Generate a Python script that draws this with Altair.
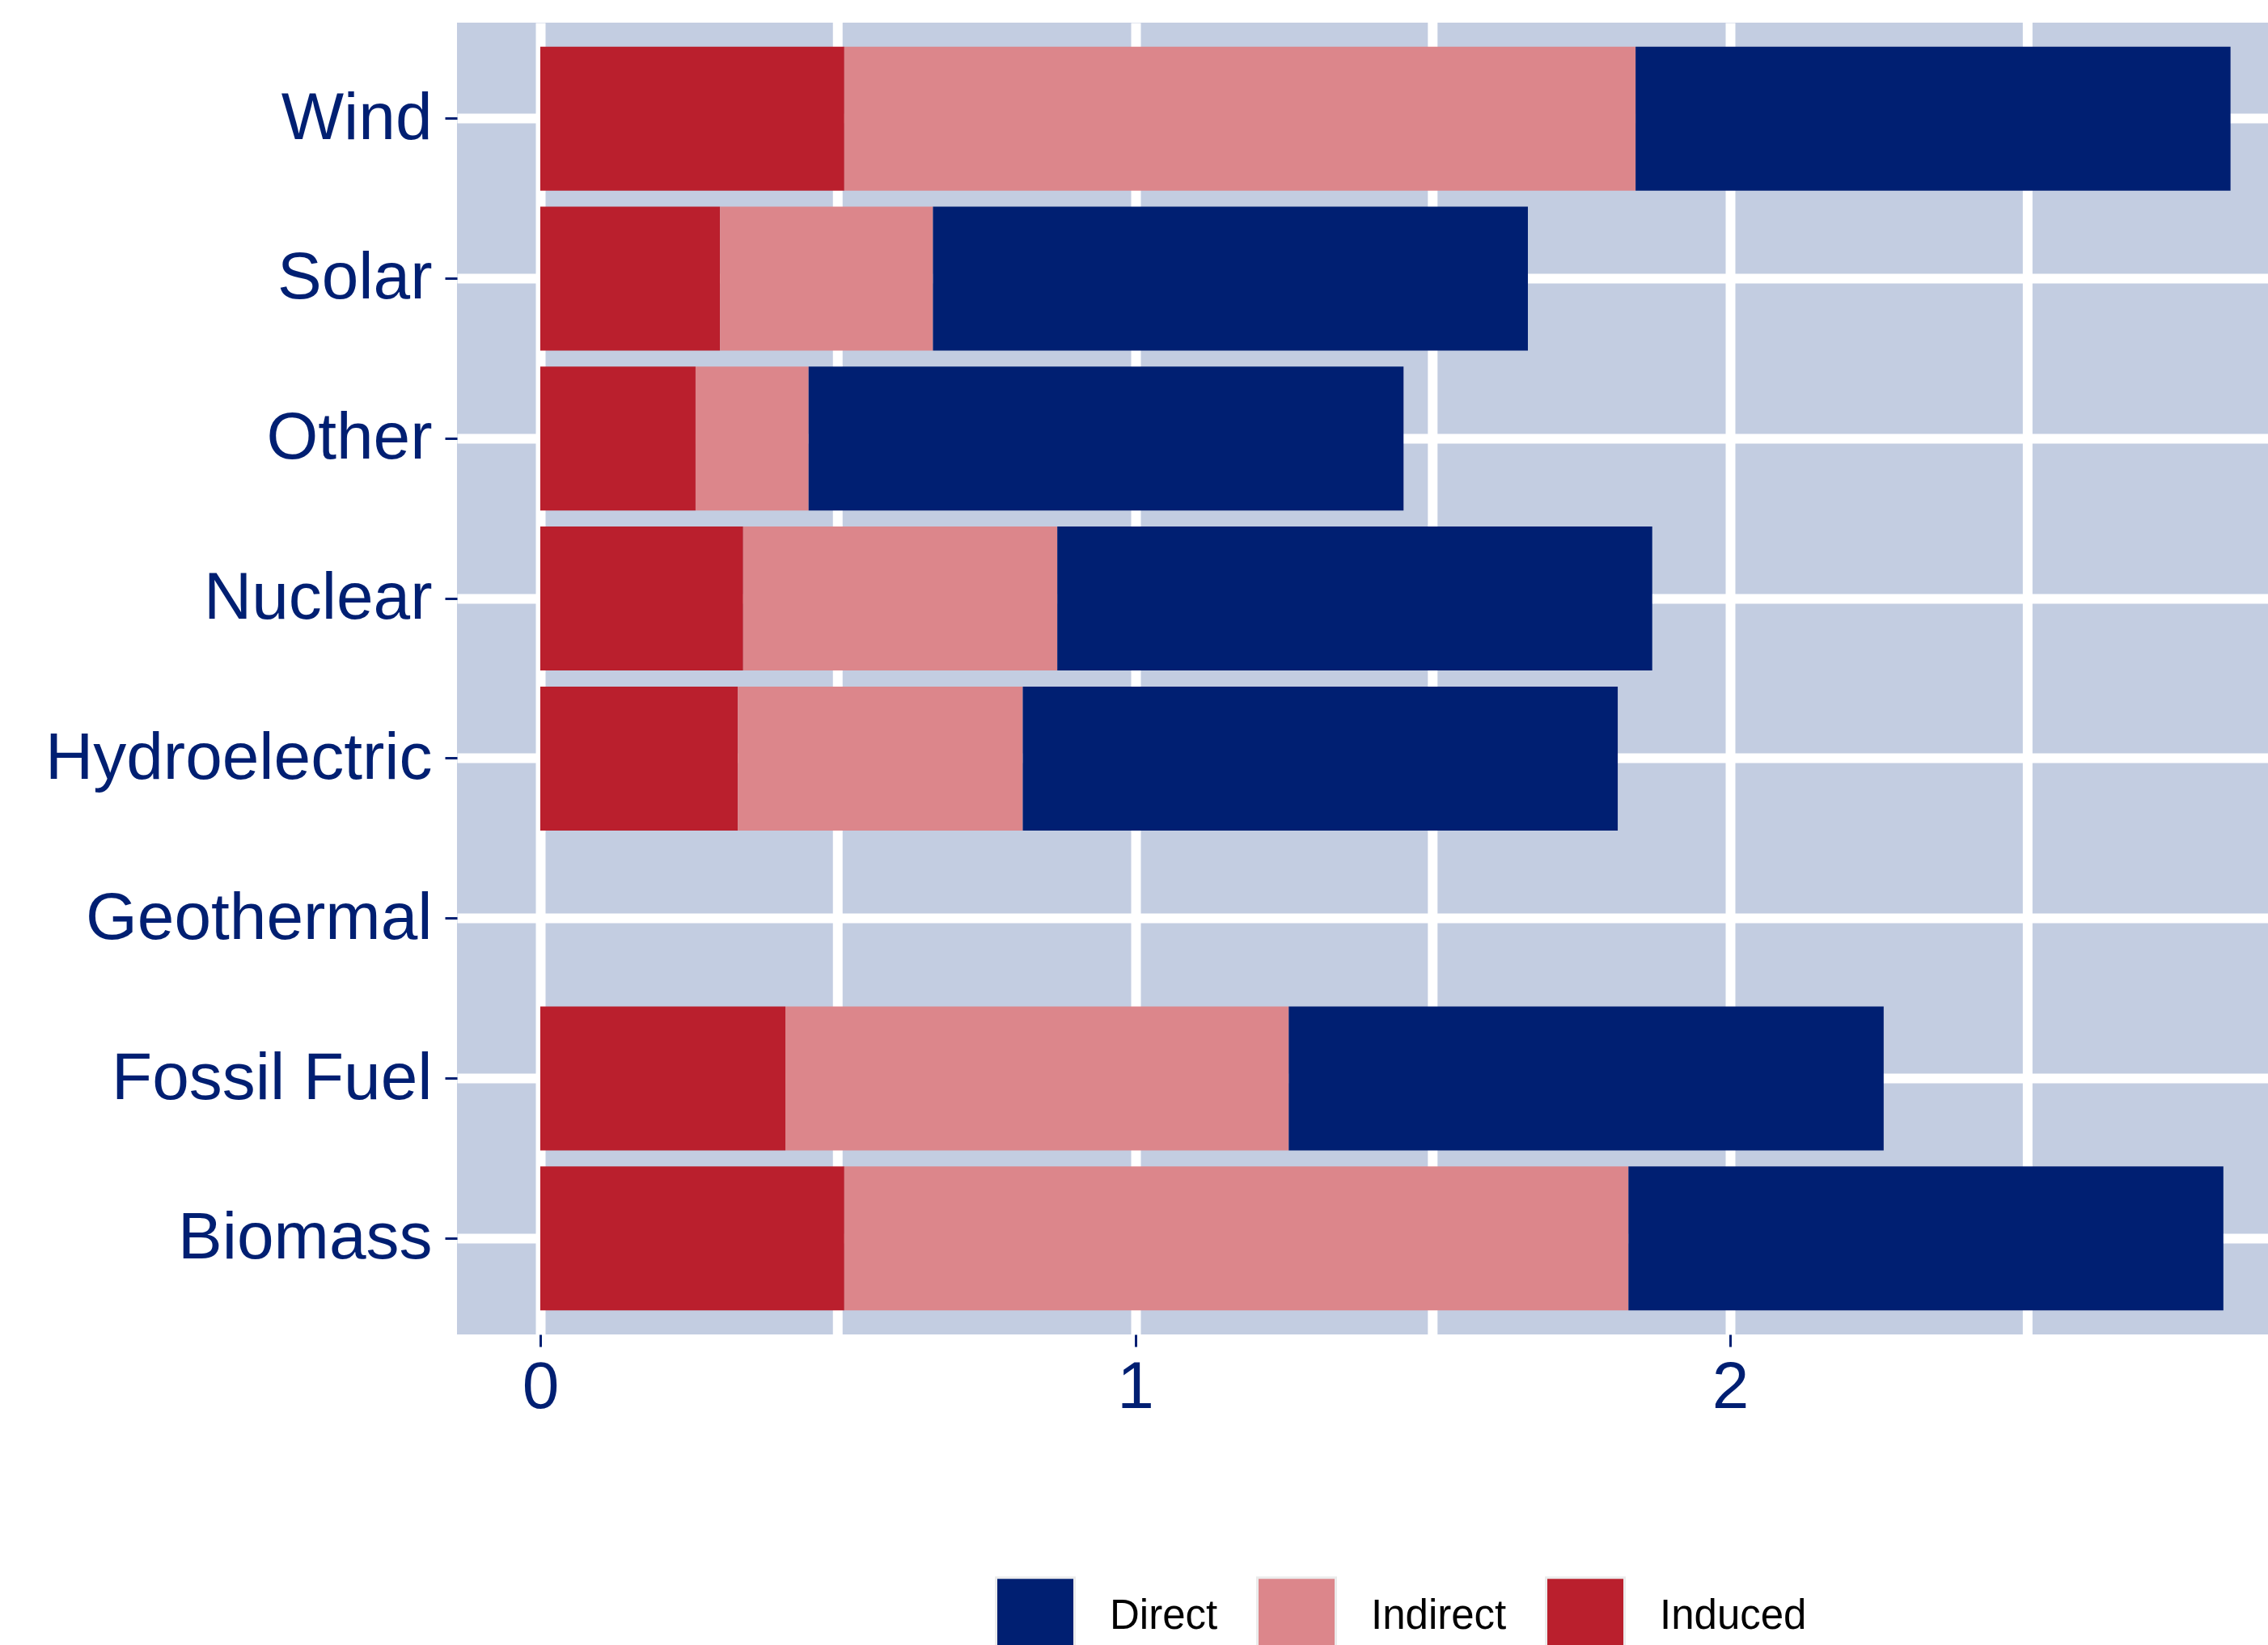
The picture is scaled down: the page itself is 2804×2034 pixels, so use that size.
import altair as alt
import pandas as pd

# ---- data ----
categories = ["Wind", "Solar", "Other", "Nuclear", "Hydroelectric",
              "Geothermal", "Fossil Fuel", "Biomass"]
bar_categories = ["Wind", "Solar", "Other", "Nuclear", "Hydroelectric",
                  "Fossil Fuel", "Biomass"]
induced = [0.511, 0.302, 0.261, 0.341, 0.332, 0.412, 0.511]
indirect = [1.330, 0.358, 0.190, 0.528, 0.479, 0.846, 1.318]
direct = [1.0, 1.0, 1.0, 1.0, 1.0, 1.0, 1.0]

effect_types = ["Direct", "Indirect", "Induced"]
effect_colors = ["#001F72", "#DC868B", "#BA1F2D"]
stack_rank = {"Induced": 0, "Indirect": 1, "Direct": 2}

x_tick_values = [0, 1, 2]
minor_grid_values = [0.5, 1.5, 2.5]

# ---- build table ----
rows = []
for i, c in enumerate(bar_categories):
    for t, v in (("Induced", induced[i]), ("Indirect", indirect[i]), ("Direct", direct[i])):
        rows.append({"category": c, "type": t, "value": v, "rank": stack_rank[t]})
df = pd.DataFrame(rows)
grid_df = pd.DataFrame({"g": minor_grid_values})

NAVY = "#001F72"
FONT = "Liberation Sans"
W, H = 2239, 1622

x_scale = alt.Scale(domain=[-0.140, 2.904], nice=False, zero=False)
x_axis = alt.Axis(values=x_tick_values, title=None, grid=True, gridColor="white",
                  gridWidth=12, domain=False, tickColor=NAVY, tickSize=15, tickWidth=3,
                  labelFontSize=82, labelFont=FONT, labelColor=NAVY, labelPadding=10,
                  labelLimit=0)

y_scale = alt.Scale(domain=categories, paddingInner=0.1, paddingOuter=0.15)
y_axis = alt.Axis(title=None, grid=True, gridColor="white", gridWidth=12, domain=False,
                  tickColor=NAVY, tickSize=15, tickWidth=3, labelFontSize=82,
                  labelFont=FONT, labelColor=NAVY, labelPadding=16, labelLimit=0)

minor = alt.Chart(grid_df).mark_rule(color="white", strokeWidth=12).encode(
    x=alt.X("g:Q", scale=x_scale, axis=x_axis)
)

bars = alt.Chart(df).mark_bar().encode(
    x=alt.X("value:Q", stack="zero", scale=x_scale, axis=x_axis),
    y=alt.Y("category:N", scale=y_scale, axis=y_axis),
    color=alt.Color("type:N", scale=alt.Scale(domain=effect_types, range=effect_colors),
                    legend=alt.Legend(title=None, orient="none", direction="horizontal",
                                      legendX=665, legendY=1921, symbolType="square",
                                      symbolSize=9409, symbolStrokeColor="#EBEBEB",
                                      symbolStrokeWidth=3, symbolOpacity=1,
                                      labelFontSize=51, labelFont=FONT, labelColor="black",
                                      labelOffset=42, columnPadding=42, padding=0,
                                      labelLimit=0)),
    order=alt.Order("rank:Q"),
)

chart = alt.layer(minor, bars).properties(
    width=W, height=H,
    background="white",
    autosize=alt.AutoSizeParams(type="none"),
    padding={"left": 565, "top": 28, "right": 0, "bottom": 384},
).configure_view(fill="#C3CDE1", stroke=None)

chart.save("out.html", embed_options={"renderer": "svg", "actions": False})
